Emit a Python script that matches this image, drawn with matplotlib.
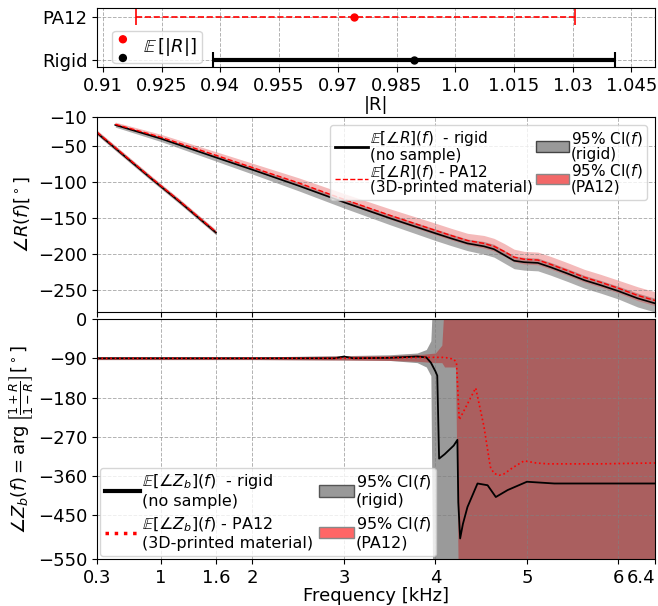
import numpy as np
import matplotlib.pyplot as plt
from matplotlib.lines import Line2D
from matplotlib.patches import Patch

# |R| summary (mean and 95% interval)
groups = ['Rigid', 'PA12']
r_mean = [0.9894, 0.9742]
r_low = [0.9381, 0.9184]
r_high = [1.0407, 1.0306]

# phase of R, first segment (0.3 - 1.6 kHz)
f1 = [0.3, 0.6, 0.9, 1.2, 1.6]
phase1_rigid = [-32, -64, -96, -127, -170]
phase1_pa12 = [-31, -63, -95, -126, -169]
ci1_half = [3, 3, 3, 3, 3]

# phase of R, second segment (0.5 - 6.4 kHz)
f2 = [0.5, 1.0, 1.6, 2.0, 2.5, 3.0, 3.5, 4.0, 4.17, 4.35, 4.53, 4.64, 4.75,
      4.86, 4.97, 5.12, 5.26, 5.45, 5.63, 5.81, 6.0, 6.21, 6.4]
phase2_rigid = [-21, -40, -66, -83, -105, -128, -150, -171, -178, -185, -189,
                -193, -201, -209, -211, -212, -218, -227, -236, -243, -251,
                -261, -268]
phase2_pa12 = [-20, -38, -63, -80, -101, -124, -146, -167, -174, -181, -185,
               -189, -196, -204, -207, -208, -214, -223, -232, -239, -247,
               -257, -264]
ci2_half = [3, 4, 5, 6, 7, 8, 9, 10, 10, 10, 11, 11, 11, 11, 11, 11, 11, 11,
            11, 11, 11, 12, 12]

# phase of Zb
fz_rigid = [0.3, 1.0, 2.0, 2.9, 3.0, 3.1, 3.5, 3.8, 3.9, 3.95, 4.0, 4.02,
            4.04, 4.1, 4.2, 4.24, 4.25, 4.27, 4.3, 4.35, 4.46, 4.57, 4.66,
            4.79, 5.0, 5.3, 5.8, 6.4]
zb_rigid = [-90, -90, -90, -90, -86, -90, -89, -86, -88, -100, -120, -130,
            -320, -310, -290, -277, -420, -503, -470, -431, -377, -381, -408,
            -392, -373, -377, -377, -377]
fz_pa12 = [0.3, 1.0, 2.0, 3.0, 3.5, 3.9, 4.1, 4.2, 4.23, 4.26, 4.3, 4.44,
           4.53, 4.6, 4.64, 4.7, 4.75, 4.85, 4.97, 5.1, 5.23, 5.8, 6.4]
zb_pa12 = [-90, -90, -90, -90, -89, -88, -88, -92, -100, -231, -215, -158,
           -246, -339, -354, -358, -355, -340, -325, -330, -332, -332, -330]

# 95% CI of Zb phase
fb_rigid = [0.3, 1.0, 2.0, 3.0, 3.5, 3.8, 3.9, 3.95, 3.97, 6.4]
cb_rigid_lo = [-93, -93, -93, -94, -95, -100, -110, -130, -600, -600]
cb_rigid_hi = [-87, -87, -87, -84, -82, -78, -70, -50, 50, 50]
fb_pa12 = [0.3, 1.0, 2.0, 3.0, 3.5, 3.8, 4.0, 4.07, 4.1, 4.22, 4.25, 6.4]
cb_pa12_lo = [-93, -93, -93, -94, -95, -97, -100, -100, -110, -110, -600, -600]
cb_pa12_hi = [-87, -87, -87, -85, -84, -82, -78, -60, 50, 50, 50, 50]

freq_ticks = [0.3, 1, 1.6, 2, 3, 4, 5, 6, 6.4]
freq_labels = ['0.3', '1', '1.6', '2', '3', '4', '5', '6', '6.4']
r_ticks = ['0.91', '0.925', '0.94', '0.955', '0.97', '0.985', '1.0', '1.015',
           '1.03', '1.045']

gray_c = '#8c8c8c'
red_c = '#e03a3a'

fig = plt.figure(figsize=(6.58, 6.06), dpi=100)
ax0 = fig.add_axes([0.1474, 0.8894, 0.848, 0.0974])
ax1 = fig.add_axes([0.1474, 0.4851, 0.848, 0.3218])
ax2 = fig.add_axes([0.1474, 0.0776, 0.848, 0.396])

grid_kw = dict(linestyle='--', color='gray', alpha=0.6, linewidth=0.7)

# --- top: |R|
ypos = [0, 1]
m = np.array(r_mean)
err = np.array([m - np.array(r_low), np.array(r_high) - m])
eb = ax0.errorbar(m[1], ypos[1], xerr=err[:, 1:2], fmt='o', color='red',
                  ms=5, lw=1.2, capsize=6, capthick=1.2)
eb[2][0].set_linestyle('--')
ax0.errorbar(m[0], ypos[0], xerr=err[:, 0:1], fmt='o', color='black',
             ms=5, lw=3, capsize=6, capthick=1.5)
ax0.set_xlim(0.9085, 1.051)
ax0.set_ylim(-0.16, 1.21)
ax0.set_yticks(ypos)
ax0.set_yticklabels(groups)
ax0.set_xticks([float(t) for t in r_ticks])
ax0.set_xticklabels(r_ticks)
ax0.set_xlabel('|R|', fontsize=13, labelpad=1)
ax0.tick_params(labelsize=13)
ax0.grid(True, **grid_kw)
proxy = ax0.scatter([np.nan, np.nan], [np.nan, np.nan], c=['red', 'black'],
                    s=25)
ax0.legend([proxy], [r'$\mathbb{E}\,[|R|]$'], loc='lower left',
           bbox_to_anchor=(0.027, 0.06), borderaxespad=0, scatterpoints=2,
           scatteryoffsets=[0.65, -0.3], handlelength=0.6, handleheight=1.3,
           fontsize=13, borderpad=0.3)

# --- middle: phase of R
lo1 = np.array(phase1_rigid) - np.array(ci1_half)
hi1 = np.array(phase1_rigid) + np.array(ci1_half)
ax1.fill_between(f1, lo1, hi1, color=gray_c, alpha=0.7, lw=0)
ax1.fill_between(f1, np.array(phase1_pa12) - ci1_half,
                 np.array(phase1_pa12) + ci1_half, color=red_c, alpha=0.35,
                 lw=0)
r2 = np.array(phase2_rigid)
p2 = np.array(phase2_pa12)
h2 = np.array(ci2_half)
ax1.fill_between(f2, r2 - h2, r2 + 0.6 * h2, color=gray_c, alpha=0.7, lw=0)
ax1.fill_between(f2, p2 - 0.6 * h2, p2 + h2, color=red_c, alpha=0.35, lw=0)
ax1.plot(f1, phase1_rigid, color='black', lw=1.2)
ax1.plot(f2, phase2_rigid, color='black', lw=1.2)
ax1.plot(f1, phase1_pa12, color='red', lw=1, ls='--')
ax1.plot(f2, phase2_pa12, color='red', lw=1, ls='--')
ax1.set_xlim(0.3, 6.4)
ax1.set_ylim(-280, -10)
ax1.set_yticks([-10, -50, -100, -150, -200, -250])
ax1.set_xticks(freq_ticks)
ax1.tick_params(labelbottom=False, labelsize=13)
ax1.set_ylabel(r'$\angle R(f) [^\circ]$', fontsize=13)
ax1.grid(True, **grid_kw)
h_mid = [Line2D([], [], color='black', lw=2),
         Line2D([], [], color='red', lw=1, ls='--'),
         Patch(facecolor='#999999', edgecolor='#444444'),
         Patch(facecolor='#f26868', edgecolor='#888888')]
l_mid = [r'$\mathbb{E}[\angle R](f)$  - rigid' + '\n(no sample)',
         r'$\mathbb{E}[\angle R](f)$ - PA12' + '\n(3D-printed material)',
         r'95% CI($f$)' + '\n(rigid)',
         r'95% CI($f$)' + '\n(PA12)']
leg1 = ax1.legend(h_mid, l_mid, loc='upper right', ncol=2, fontsize=11,
                  handlelength=2.2, handletextpad=0.1, columnspacing=0.2,
                  labelspacing=0.0, borderpad=0.3)
for t in leg1.get_texts():
    t.set_linespacing(0.95)

# --- bottom: phase of Zb
ax2.fill_between(fb_rigid, cb_rigid_lo, cb_rigid_hi, color='#8f8f8f',
                 alpha=0.9, lw=0)
ax2.fill_between(fb_pa12, cb_pa12_lo, cb_pa12_hi, color='#b83030',
                 alpha=0.55, lw=0)
ax2.plot(fz_rigid, zb_rigid, color='black', lw=1.3)
ax2.plot(fz_pa12, zb_pa12, color='red', lw=1.2, ls=':')
ax2.set_xlim(0.3, 6.4)
ax2.set_ylim(-550, 0)
ax2.set_yticks([0, -90, -180, -270, -360, -450, -550])
ax2.set_xticks(freq_ticks)
ax2.set_xticklabels(freq_labels)
ax2.get_xticklabels()[-1].set_horizontalalignment('right')
ax2.tick_params(labelsize=13)
ax2.set_xlabel('Frequency [kHz]', fontsize=13, labelpad=0)
ax2.set_ylabel(r'$\angle Z_b(f) = \arg\left[\frac{1+R}{1-R}\right][^\circ]$',
               fontsize=13, labelpad=2)
ax2.grid(True, **grid_kw)
h_bot = [Line2D([], [], color='black', lw=3),
         Line2D([], [], color='red', lw=2.5, ls=':'),
         Patch(facecolor='#999999', edgecolor='#555555'),
         Patch(facecolor='#ff6666', edgecolor='#888888')]
l_bot = [r'$\mathbb{E}[\angle Z_b](f)$  - rigid' + '\n(no sample)',
         r'$\mathbb{E}[\angle Z_b](f)$ - PA12' + '\n(3D-printed material)',
         r'95% CI($f$)' + '\n(rigid)',
         r'95% CI($f$)' + '\n(PA12)']
ax2.legend(h_bot, l_bot, loc='lower left', ncol=2, fontsize=11.5,
           handlelength=2.2, handletextpad=0.1, columnspacing=0.4,
           labelspacing=0.4, borderpad=0.3, borderaxespad=0.2)

fig.savefig('out.png', dpi=100)
